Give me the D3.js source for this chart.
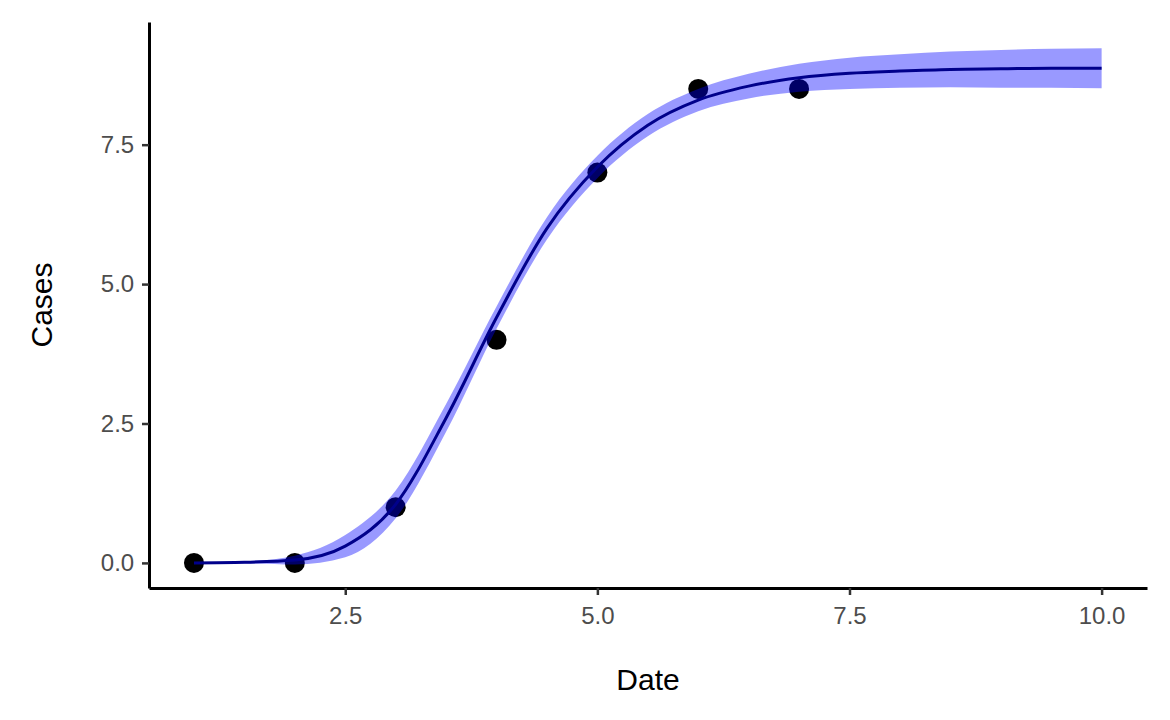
<!DOCTYPE html>
<html><head><meta charset="utf-8">
<script src="https://cdn.jsdelivr.net/npm/d3@7"></script>
<style>body{margin:0;background:#fff}svg{font-family:"Liberation Sans",Arial,sans-serif}</style>
</head><body><svg id="chart" width="1170" height="720"></svg>
<script>
// observed points
const obsDate = [1, 2, 3, 4, 5, 6, 7];
const obsCases = [0, 0, 1, 4, 7, 8.5, 8.5];
// fitted curve
const fitDate = [1, 1.5, 2, 2.5, 3, 3.5, 4, 4.5, 5, 5.5, 6, 6.5, 7, 7.5, 8, 8.5, 9, 9.5, 10];
const fitCases = [0, 0.01, 0.05, 0.3, 1.05, 2.6, 4.4, 6.0, 7.1, 7.85, 8.3, 8.55, 8.7, 8.78, 8.82, 8.85, 8.86, 8.87, 8.87];
const fitHalfBand = [0.01, 0.02, 0.08, 0.2, 0.25, 0.25, 0.2, 0.2, 0.2, 0.2, 0.2, 0.22, 0.25, 0.28, 0.3, 0.32, 0.34, 0.35, 0.36];
const xTicks = [2.5, 5.0, 7.5, 10.0];
const yTicks = [0, 2.5, 5.0, 7.5];

const svg = d3.select('#chart');
const mLeft = 149, mRight = 1147, mTop = 22, mBottom = 588;
const x = d3.scaleLinear().domain([0.554, 10.45]).range([mLeft, mRight]);
const y = d3.scaleLinear().domain([-0.45, 9.7]).range([mBottom, mTop]);

const fit = fitDate.map((d, i) => ({x: d, y: fitCases[i], h: fitHalfBand[i]}));

svg.append('g').selectAll('circle').data(obsDate).join('circle')
    .attr('cx', (d) => x(d)).attr('cy', (d, i) => y(obsCases[i])).attr('r', 10).attr('fill', '#000');

svg.append('path').datum(fit)
    .attr('d', d3.area().x((d) => x(d.x)).y0((d) => y(d.y - d.h)).y1((d) => y(d.y + d.h)).curve(d3.curveMonotoneX))
    .attr('fill', 'blue').attr('fill-opacity', 0.4);

svg.append('path').datum(fit)
    .attr('d', d3.line().x((d) => x(d.x)).y((d) => y(d.y)).curve(d3.curveMonotoneX))
    .attr('fill', 'none').attr('stroke', '#00008b').attr('stroke-width', 3);

const xAxis = svg.append('g').attr('transform', `translate(0,${mBottom})`)
    .call(d3.axisBottom(x).tickValues(xTicks).tickFormat(d3.format('.1f')).tickSize(7).tickSizeOuter(0));
const yAxis = svg.append('g').attr('transform', `translate(${mLeft},0)`)
    .call(d3.axisLeft(y).tickValues(yTicks).tickFormat(d3.format('.1f')).tickSize(7).tickSizeOuter(0));
[xAxis, yAxis].forEach((a) => {
    a.select('.domain').attr('stroke', '#000').attr('stroke-width', 3);
    a.selectAll('.tick line').attr('stroke', '#333').attr('stroke-width', 2.5);
    a.selectAll('.tick text').attr('fill', '#4d4d4d').style('font-size', '24px');
});
xAxis.selectAll('.tick text').attr('dy', '1.1em');
yAxis.selectAll('.tick text').attr('dx', '-0.2em');

svg.append('text').attr('x', (mLeft + mRight) / 2).attr('y', 690).attr('text-anchor', 'middle')
    .style('font-size', '30px').text('Date');
svg.append('text').attr('transform', `translate(52,${(mTop + mBottom) / 2}) rotate(-90)`).attr('text-anchor', 'middle')
    .style('font-size', '30px').text('Cases');
</script></body></html>
